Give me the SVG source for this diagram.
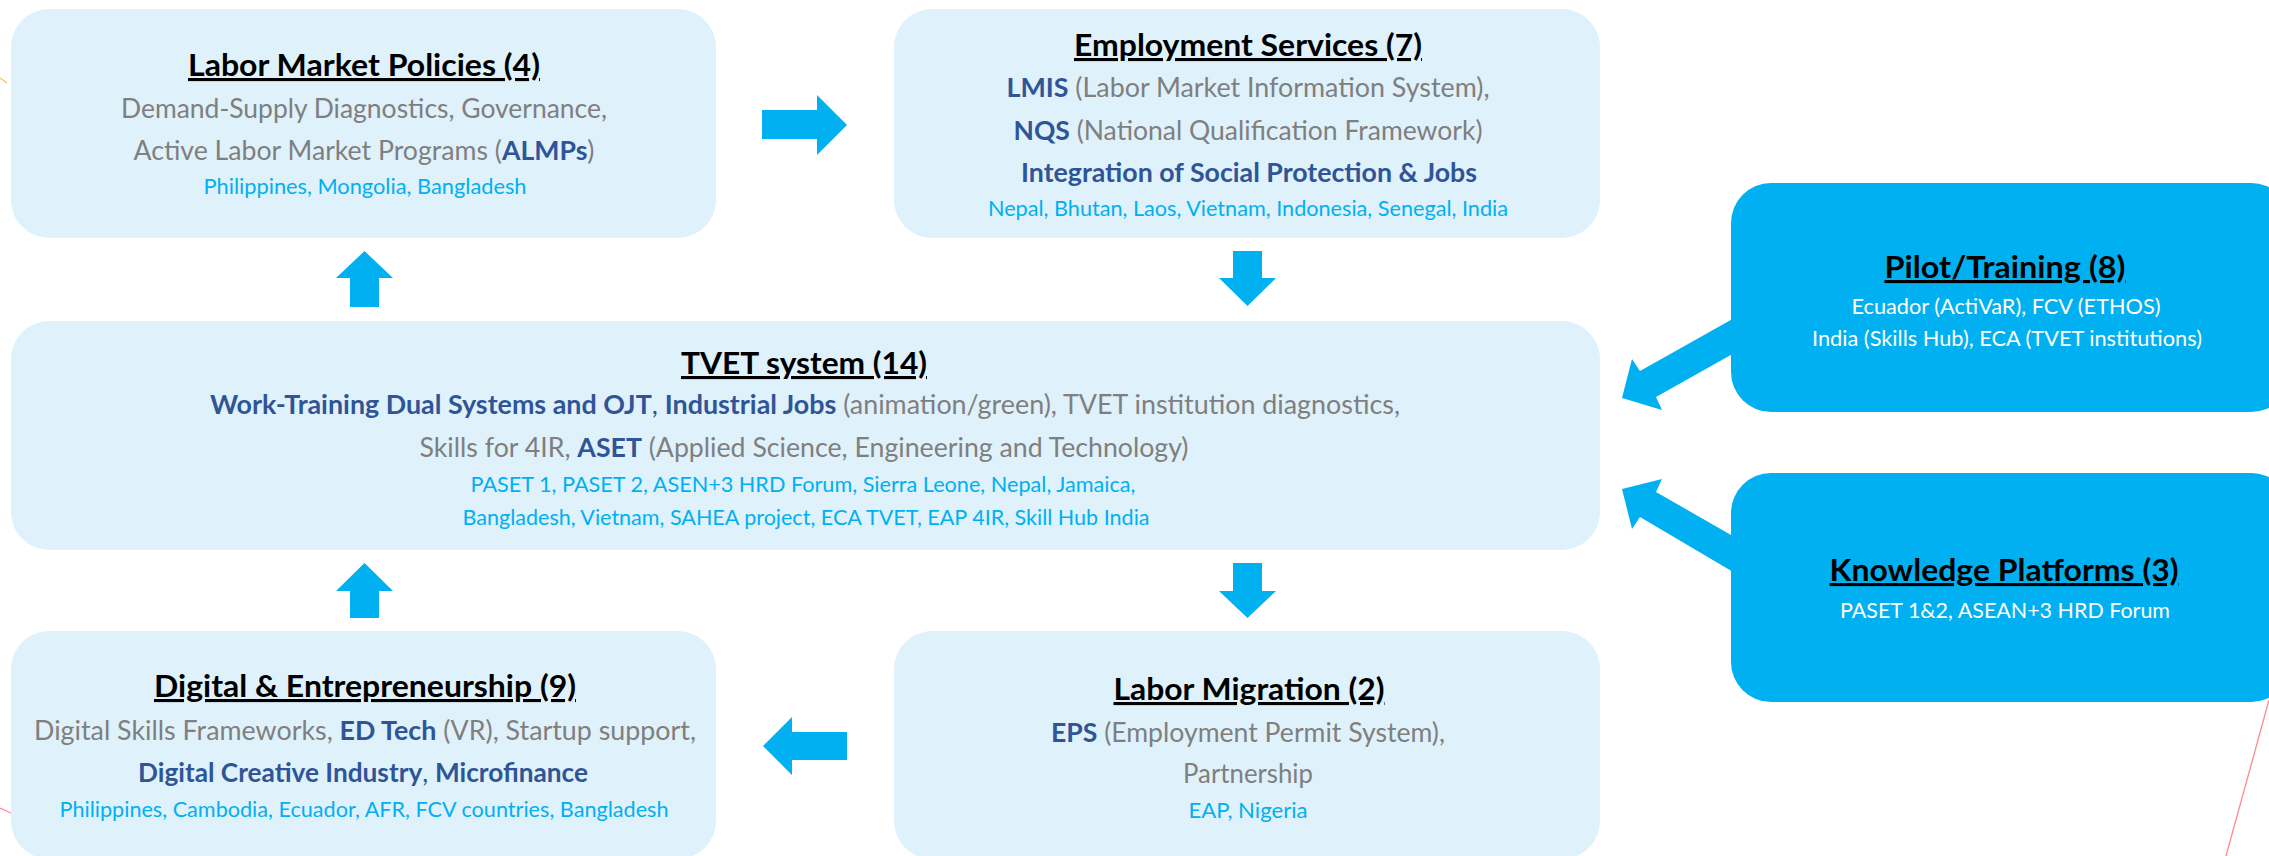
<svg xmlns="http://www.w3.org/2000/svg" width="2269" height="856" viewBox="0 0 2269 856">
<style>
.lt{fill:#dff1fb}
.dk{fill:#00b0f0}
text{font-family:Lato,"Liberation Sans",sans-serif;text-anchor:middle}
.t{font-size:31px;font-weight:700;fill:#000;text-decoration:underline}
.tw{font-size:31px;font-weight:700;fill:#000;text-decoration:underline}
.g{font-size:26px;fill:#7f7f7f}
.b{font-weight:700;fill:#2f5597}
.bl{fill:#2f5597}
.c{font-size:22px;fill:#00b0f0}
.w{font-size:21px;fill:#ffffff}
.arr{fill:#00b0f0}
.deco{fill:none;stroke-width:1.3}
</style>
<rect x="0" y="0" width="2269" height="856" fill="#ffffff"/>

<g id="decor">
<line class="deco" x1="2269" y1="700" x2="2226" y2="856" stroke="#ff8a8f"/>
<line class="deco" x1="0" y1="808" x2="11" y2="813" stroke="#ff8a8f"/>
<line class="deco" x1="0" y1="78" x2="7" y2="83" stroke="#f7c15c"/>
</g>

<g id="connectors">
<polygon class="arr" points="762,110 817,110 817,95 847,125 817,155 817,139 762,139"/>
<polygon class="arr" points="364.5,251 393,278 379,278 379,307 350,307 350,278 336,278"/>
<polygon class="arr" points="1233,251 1262,251 1262,278 1276,278 1247.5,306 1219,278 1233,278"/>
<polygon class="arr" points="364.5,563 393,591 379,591 379,618 350,618 350,591 336,591"/>
<polygon class="arr" points="1233,563 1262,563 1262,591 1276,591 1247.5,618 1219,591 1233,591"/>
<polygon class="arr" points="847,732 792,732 792,717 763,746 792,775 792,760 847,760"/>
<polygon class="arr" points="1622,398 1632,359 1640,371 1745,312 1745,347 1656,397 1662,410"/>
<polygon class="arr" points="1622,489 1662,479 1656,492 1745,543 1745,579 1640,517 1632,529"/>
</g>

<g id="labor-market-policies">
<rect class="lt" x="11" y="9" width="705" height="229" rx="38"/>
<text class="t" x="364" y="76" textLength="352" lengthAdjust="spacingAndGlyphs">Labor Market Policies (4)</text>
<text class="g" x="364" y="118" textLength="486" lengthAdjust="spacingAndGlyphs">Demand-Supply Diagnostics, Governance,</text>
<text class="g" x="364" y="160" textLength="461" lengthAdjust="spacingAndGlyphs">Active Labor Market Programs (<tspan class="b">ALMPs</tspan>)</text>
<text class="c" x="365" y="194" textLength="323" lengthAdjust="spacingAndGlyphs">Philippines, Mongolia, Bangladesh</text>
</g>

<g id="employment-services">
<rect class="lt" x="894" y="9" width="706" height="229" rx="38"/>
<text class="t" x="1248" y="56" textLength="348" lengthAdjust="spacingAndGlyphs">Employment Services (7)</text>
<text class="g" x="1248" y="97" textLength="483" lengthAdjust="spacingAndGlyphs"><tspan class="b">LMIS</tspan> (Labor Market Information System),</text>
<text class="g" x="1248" y="140" textLength="469" lengthAdjust="spacingAndGlyphs"><tspan class="b">NQS</tspan> (National Qualification Framework)</text>
<text class="g b" x="1249" y="182" textLength="456" lengthAdjust="spacingAndGlyphs">Integration of Social Protection &amp; Jobs</text>
<text class="c" x="1248" y="216" textLength="520" lengthAdjust="spacingAndGlyphs">Nepal, Bhutan, Laos, Vietnam, Indonesia, Senegal, India</text>
</g>

<g id="tvet-system">
<rect class="lt" x="11" y="321" width="1589" height="229" rx="38"/>
<text class="t" x="804" y="374" textLength="246" lengthAdjust="spacingAndGlyphs">TVET system (14)</text>
<text class="g" x="805" y="414" textLength="1190" lengthAdjust="spacingAndGlyphs"><tspan class="b">Work-Training Dual Systems and OJT</tspan><tspan class="bl">, </tspan><tspan class="b">Industrial Jobs</tspan> (animation/green), TVET institution diagnostics,</text>
<text class="g" x="804" y="457" textLength="769" lengthAdjust="spacingAndGlyphs">Skills for 4IR, <tspan class="b">ASET</tspan> (Applied Science, Engineering and Technology)</text>
<text class="c" x="803" y="492" textLength="665" lengthAdjust="spacingAndGlyphs">PASET 1, PASET 2, ASEN+3 HRD Forum, Sierra Leone, Nepal, Jamaica,</text>
<text class="c" x="806" y="525" textLength="687" lengthAdjust="spacingAndGlyphs">Bangladesh, Vietnam, SAHEA project, ECA TVET, EAP 4IR, Skill Hub India</text>
</g>

<g id="digital-entrepreneurship">
<rect class="lt" x="11" y="631" width="705" height="228" rx="38"/>
<text class="t" x="365" y="697" textLength="422" lengthAdjust="spacingAndGlyphs">Digital &amp; Entrepreneurship (9)</text>
<text class="g" x="365" y="740" textLength="662" lengthAdjust="spacingAndGlyphs">Digital Skills Frameworks, <tspan class="b">ED Tech</tspan> (VR), Startup support,</text>
<text class="g bl" x="363" y="782" textLength="450" lengthAdjust="spacingAndGlyphs"><tspan class="b">Digital Creative Industry</tspan>, <tspan class="b">Microfinance</tspan></text>
<text class="c" x="364" y="817" textLength="609" lengthAdjust="spacingAndGlyphs">Philippines, Cambodia, Ecuador, AFR, FCV countries, Bangladesh</text>
</g>

<g id="labor-migration">
<rect class="lt" x="894" y="631" width="706" height="228" rx="38"/>
<text class="t" x="1249" y="700" textLength="271" lengthAdjust="spacingAndGlyphs">Labor Migration (2)</text>
<text class="g" x="1248" y="742" textLength="394" lengthAdjust="spacingAndGlyphs"><tspan class="b">EPS</tspan> (Employment Permit System),</text>
<text class="g" x="1248" y="783" textLength="130" lengthAdjust="spacingAndGlyphs">Partnership</text>
<text class="c" x="1248" y="818" textLength="119" lengthAdjust="spacingAndGlyphs">EAP, Nigeria</text>
</g>

<g id="pilot-training">
<rect class="dk" x="1731" y="183" width="560" height="229" rx="40"/>
<text class="tw" x="2005" y="278" textLength="241" lengthAdjust="spacingAndGlyphs">Pilot/Training (8)</text>
<text class="w" x="2006" y="314" textLength="309" lengthAdjust="spacingAndGlyphs">Ecuador (ActiVaR), FCV (ETHOS)</text>
<text class="w" x="2007" y="346" textLength="390" lengthAdjust="spacingAndGlyphs">India (Skills Hub), ECA (TVET institutions)</text>
</g>

<g id="knowledge-platforms">
<rect class="dk" x="1731" y="473" width="560" height="229" rx="40"/>
<text class="tw" x="2004" y="581" textLength="349" lengthAdjust="spacingAndGlyphs">Knowledge Platforms (3)</text>
<text class="w" x="2005" y="618" textLength="330" lengthAdjust="spacingAndGlyphs">PASET 1&amp;2, ASEAN+3 HRD Forum</text>
</g>
</svg>
